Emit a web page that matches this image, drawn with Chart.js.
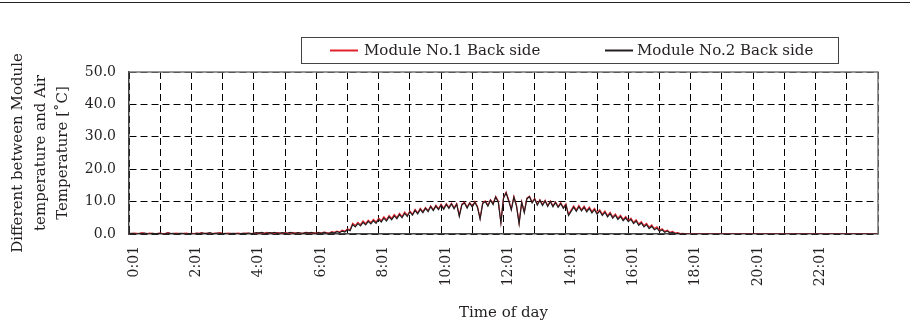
<!DOCTYPE html>
<html>
<head>
<meta charset="utf-8">
<script src="https://cdn.jsdelivr.net/npm/chart.js@4.4.1/dist/chart.umd.min.js"></script>
<style>
  html, body { margin:0; padding:0; background:#fff; }
  #wrap { position:relative; width:910px; height:334px; }
  #linea { position:absolute; left:0; top:2px; width:910px; height:1px; background:#222; }
</style>
</head>
<body>
<div id="wrap">
  <canvas id="grafica" width="910" height="334"></canvas>
  <div id="linea"></div>
</div>
<script>
// one reading every 5 minutes, 0:01 -> 24:01 (289 values)
var PASO = 5;

var nombres = ["Module No.1 Back side", "Module No.2 Back side"];
var colores = ["#e3202b", "#231f20"];

var modulo1 = [
  0.2,0.1,0.3,0.2,0.1,0.4,0.2,0.1,0.3,0.2,0.0,0.2,   // 0h
  0.3,0.1,0.2,0.4,0.2,0.1,0.3,0.2,0.1,0.2,0.3,0.1,   // 1h
  0.2,0.1,0.3,0.2,0.4,0.1,0.3,0.2,0.1,0.3,0.2,0.4,   // 2h
  0.2,0.1,0.3,0.2,0.1,0.2,0.3,0.1,0.2,0.3,0.2,0.1,   // 3h
  0.3,0.2,0.4,0.3,0.2,0.5,0.3,0.4,0.2,0.4,0.3,0.2,   // 4h
  0.4,0.3,0.2,0.5,0.3,0.4,0.2,0.3,0.5,0.4,0.3,0.4,   // 5h
  0.3,0.5,0.3,0.6,0.4,0.3,0.7,0.5,0.9,0.6,1.2,0.9,   // 6h
  1.6,1.3,3.3,2.6,3.6,2.9,4.0,3.2,4.3,3.5,4.5,3.7,   // 7h
  4.9,4.1,5.3,4.4,5.7,4.8,6.0,5.1,6.4,5.4,6.8,5.8,   // 8h
  7.1,6.1,7.6,6.5,7.9,6.9,8.2,7.2,8.7,7.5,8.9,7.8,   // 9h
  9.2,7.9,9.4,8.2,9.5,8.1,9.4,5.8,9.2,9.8,8.3,9.7,   // 10h
  8.6,10.0,8.5,4.9,9.6,10.2,8.9,10.6,9.4,11.6,10.1,3.7, // 11h
  11.2,12.9,10.5,7.7,11.6,8.9,3.4,10.0,6.9,11.1,11.7,9.9, // 12h
  11.0,9.2,10.6,9.1,10.4,8.8,10.2,8.7,9.9,8.5,9.7,8.2, // 13h
  9.3,6.0,7.4,8.7,7.4,8.8,7.5,8.6,7.2,8.3,6.9,7.9,   // 14h
  6.5,7.5,6.1,7.1,5.7,6.7,5.3,6.2,4.9,5.8,4.5,5.4,   // 15h
  4.2,4.9,3.6,4.4,3.1,3.8,2.6,3.3,2.1,2.8,1.7,2.2,   // 16h
  1.2,1.6,0.8,1.2,0.5,0.8,0.3,0.4,0.1,0.2,0.0,0.0,   // 17h
  0,0,0,0,0,0,0,0,0,0,0,0,                           // 18h
  0,0,0,0,0,0,0,0,0,0,0,0,                           // 19h
  0,0,0,0,0,0,0,0,0,0,0,0,                           // 20h
  0,0,0,0,0,0,0,0,0,0,0,0,                           // 21h
  0,0,0,0,0,0,0,0,0,0,0,0,                           // 22h
  0,0,0,0,0,0,0,0,0,0,0,0,                           // 23h
  0
];

var modulo2 = [
  0.1,0.2,0.1,0.0,0.2,0.1,0.3,0.1,0.0,0.2,0.1,0.1,   // 0h
  0.2,0.0,0.1,0.3,0.1,0.2,0.0,0.1,0.2,0.1,0.0,0.1,   // 1h
  0.1,0.0,0.2,0.1,0.3,0.2,0.1,0.4,0.2,0.1,0.3,0.2,   // 2h
  0.1,0.2,0.0,0.1,0.2,0.1,0.0,0.1,0.2,0.1,0.3,0.1,   // 3h
  0.2,0.4,0.3,0.5,0.3,0.2,0.4,0.3,0.5,0.2,0.3,0.4,   // 4h
  0.2,0.3,0.5,0.3,0.2,0.4,0.3,0.2,0.4,0.3,0.5,0.3,   // 5h
  0.2,0.4,0.2,0.5,0.3,0.2,0.5,0.3,0.7,0.4,0.9,0.6,   // 6h
  1.3,1.0,2.9,2.2,3.2,2.5,3.6,2.8,3.9,3.1,4.1,3.3,   // 7h
  4.5,3.7,4.9,4.0,5.3,4.4,5.6,4.7,6.0,5.0,6.4,5.4,   // 8h
  6.8,5.8,7.3,6.2,7.6,6.6,7.9,6.9,8.4,7.2,8.6,7.5,   // 9h
  8.9,7.6,9.1,7.9,9.3,7.8,9.2,5.4,9.0,9.6,8.0,9.5,   // 10h
  8.3,9.8,8.2,4.6,9.4,10.0,8.6,10.4,9.1,11.4,9.8,3.4, // 11h
  11.0,12.7,10.2,7.4,11.4,8.6,3.1,9.8,6.6,10.9,11.5,9.6, // 12h
  10.8,8.9,10.4,8.8,10.2,8.5,10.0,8.4,9.7,8.2,9.4,7.9, // 13h
  9.0,5.7,7.0,8.3,7.0,8.4,7.1,8.2,6.8,7.9,6.5,7.5,   // 14h
  6.1,7.1,5.7,6.7,5.3,6.3,4.9,5.8,4.5,5.4,4.1,5.0,   // 15h
  3.8,4.5,3.2,4.0,2.7,3.4,2.2,2.9,1.7,2.4,1.3,1.8,   // 16h
  0.8,1.3,0.5,0.9,0.3,0.5,0.1,0.2,0.0,0.1,0.0,0.0,   // 17h
  0,0,0,0,0,0,0,0,0,0,0,0,                           // 18h
  0,0,0,0,0,0,0,0,0,0,0,0,                           // 19h
  0,0,0,0,0,0,0,0,0,0,0,0,                           // 20h
  0,0,0,0,0,0,0,0,0,0,0,0,                           // 21h
  0,0,0,0,0,0,0,0,0,0,0,0,                           // 22h
  0,0,0,0,0,0,0,0,0,0,0,0,                           // 23h
  0
];

// x axis ticks (minutes) that carry a label
var etiquetasX = [0,120,240,360,480,600,720,840,960,1080,1200,1320];
var tituloY = ["Different between Module", "temperature and Air", "Temperature [\u02DAC]"];
var tituloX = "Time of day";

function aPuntos(serie){
  return serie.map(function(v, i){ return {x: i*PASO, y: v}; });
}

var fuente = '"DejaVu Serif", serif';
Chart.defaults.font.family = fuente;
Chart.defaults.color = "#231f20";

// legend box drawn by hand (it is offset to the right in the original)
var leyenda = {
  id: 'leyenda',
  afterDraw: function(chart){
    var ctx = chart.ctx;
    var pos = [{l:330, t:364}, {l:605, t:637}];
    ctx.save();
    ctx.strokeStyle = "#444";
    ctx.lineWidth = 1;
    ctx.strokeRect(301.5, 37.5, 537, 26);
    ctx.font = '15px ' + fuente;
    ctx.textBaseline = 'middle';
    ctx.fillStyle = "#231f20";
    chart.data.datasets.forEach(function(ds, i){
      ctx.strokeStyle = ds.borderColor;
      ctx.lineWidth = 2;
      ctx.beginPath();
      ctx.moveTo(pos[i].l, 50.5);
      ctx.lineTo(pos[i].l + 28, 50.5);
      ctx.stroke();
      ctx.fillText(ds.label, pos[i].t, 51);
    });
    ctx.restore();
  }
};

// grey frame on top and right of the plot area
var marco = {
  id: 'marco',
  afterDraw: function(chart){
    var a = chart.chartArea;
    var ctx = chart.ctx;
    ctx.save();
    ctx.strokeStyle = "#777";
    ctx.lineWidth = 1.5;
    ctx.beginPath();
    ctx.moveTo(a.left, a.top);
    ctx.lineTo(a.right, a.top);
    ctx.lineTo(a.right, a.bottom);
    ctx.stroke();
    ctx.restore();
  }
};

var datos = {
  type: "line",
  data: {
    datasets: [{
      label: nombres[0],
      data: aPuntos(modulo1),
      borderColor: colores[0],
      borderWidth: 1.2,
      pointRadius: 0,
      tension: 0,
      order: 1
    },{
      label: nombres[1],
      data: aPuntos(modulo2),
      borderColor: colores[1],
      borderWidth: 1.2,
      pointRadius: 0,
      tension: 0,
      order: 0
    }]
  },
  options: {
    responsive: false,
    animation: false,
    layout: { padding: { top: 72, right: 32, bottom: 0, left: 0 } },
    plugins: {
      legend: { display: false },
      tooltip: { enabled: false }
    },
    scales: {
      x: {
        type: 'linear',
        min: 0,
        max: 1440,
        afterFit: function(s){ s.height = 100; },
        ticks: {
          stepSize: 60,
          autoSkip: false,
          maxRotation: 90,
          minRotation: 90,
          padding: 12,
          labelOffset: 5,
          font: { size: 14 },
          callback: function(v){
            return etiquetasX.indexOf(v) >= 0 ? (v/60) + ":01" : "";
          }
        },
        grid: { color: "#000", lineWidth: 1, drawTicks: false },
        border: { display: true, color: "#444", width: 1.5, dash: [7,4] },
        title: {
          display: true,
          text: tituloX,
          font: { size: 15 },
          padding: { top: 0, bottom: 12 }
        }
      },
      y: {
        min: 0,
        max: 50,
        afterFit: function(s){ s.width = 129; },
        ticks: {
          stepSize: 10,
          padding: 13,
          font: { size: 14 },
          callback: function(v){ return v.toFixed(1); }
        },
        grid: { color: "#000", lineWidth: 1, drawTicks: false },
        border: { display: true, color: "#444", width: 1.5, dash: [7,4] },
        title: {
          display: true,
          text: tituloY,
          font: { size: 15, lineHeight: 1.5 },
          padding: { top: 7, bottom: 0 }
        }
      }
    }
  },
  plugins: [leyenda, marco]
};

var contenedor = document.getElementById('grafica').getContext('2d');
var miGrafica = new Chart(contenedor, datos);
</script>
</body>
</html>
